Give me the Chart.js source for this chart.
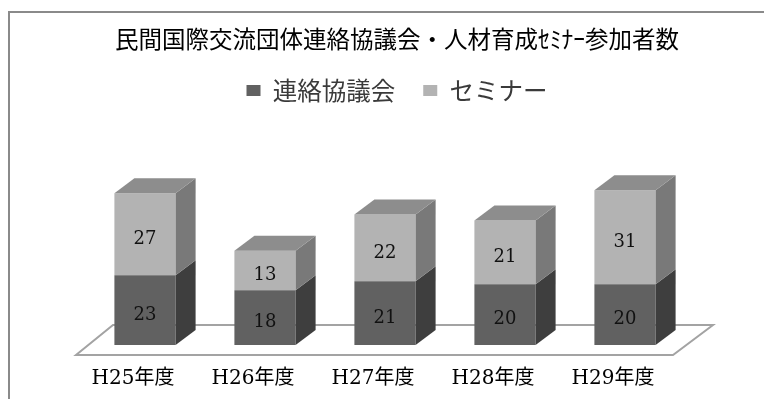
<!DOCTYPE html>
<html lang="ja">
<head>
<meta charset="utf-8">
<title>民間国際交流団体連絡協議会・人材育成ｾﾐﾅｰ参加者数</title>
<script src="https://cdn.jsdelivr.net/npm/chart.js@4.4.1/dist/chart.umd.min.js"></script>
<style>
    html, body { margin: 0; padding: 0; background: #fff; overflow: hidden; }
    #wrap { position: relative; width: 764px; height: 399px; }
    #frame { position: absolute; left: 8px; top: 11px; width: 820px; height: 460px; border: 2px solid #8a8a8a; }
    canvas { position: absolute; left: 0; top: 0; }
</style>
</head>
<body>
<div id="wrap">
    <div id="frame"></div>
    <canvas id="chart" width="764" height="399"></canvas>
</div>
<script>
// Data
const years = ['H25年度', 'H26年度', 'H27年度', 'H28年度', 'H29年度'];
const council = [23, 18, 21, 20, 20];
const seminar = [27, 13, 22, 21, 31];

// depth of the fake 3D boxes
const DX = 20, DY = 15;

const box3d = {
    id: 'box3d',
    beforeDatasetsDraw(chart) {
        // floor outline
        const { ctx, chartArea } = chart;
        const y0 = chart.scales.y.getPixelForValue(0);
        ctx.save();
        ctx.strokeStyle = '#a3a3a3';
        ctx.lineWidth = 2;
        ctx.beginPath();
        ctx.moveTo(chartArea.left - 9, y0 + 10);
        ctx.lineTo(chartArea.right - 12, y0 + 10);
        ctx.lineTo(chartArea.right + 28, y0 - 20);
        ctx.lineTo(chartArea.left + 28, y0 - 20);
        ctx.closePath();
        ctx.stroke();
        ctx.restore();
    },
    afterDatasetsDraw(chart) {
        const ctx = chart.ctx;
        const last = chart.data.datasets.length - 1;
        ctx.save();
        chart.data.datasets.forEach(function (ds, i) {
            chart.getDatasetMeta(i).data.forEach(function (bar, j) {
                const l = bar.x - bar.width / 2, r = bar.x + bar.width / 2;
                const top = Math.min(bar.y, bar.base), bot = Math.max(bar.y, bar.base);

                // side face
                ctx.fillStyle = ds.sideColor;
                ctx.beginPath();
                ctx.moveTo(r, top);
                ctx.lineTo(r + DX, top - DY);
                ctx.lineTo(r + DX, bot - DY);
                ctx.lineTo(r, bot);
                ctx.closePath();
                ctx.fill();

                // top face on the upper segment only
                if (i === last) {
                    ctx.fillStyle = ds.topColor;
                    ctx.beginPath();
                    ctx.moveTo(l, top);
                    ctx.lineTo(l + DX, top - DY);
                    ctx.lineTo(r + DX, top - DY);
                    ctx.lineTo(r, top);
                    ctx.closePath();
                    ctx.fill();
                }

                // value label
                ctx.fillStyle = '#111';
                ctx.font = '18px "DejaVu Serif", serif';
                ctx.textAlign = 'center';
                ctx.textBaseline = 'middle';
                ctx.fillText(String(ds.data[j]), bar.x, (top + bot) / 2 + 5);
            });
        });
        ctx.restore();
    }
};

const chart = new Chart(document.getElementById('chart'), {
    type: 'bar',
    data: {
        labels: years,
        datasets: [{
            label: '連絡協議会',
            data: council,
            backgroundColor: '#616161',
            sideColor: '#3e3e3e',
            topColor: '#4f4f4f',
            borderWidth: 0,
            categoryPercentage: 1,
            barPercentage: 0.51
        }, {
            label: 'セミナー',
            data: seminar,
            backgroundColor: '#b3b3b3',
            sideColor: '#797979',
            topColor: '#8d8d8d',
            borderWidth: 0,
            categoryPercentage: 1,
            barPercentage: 0.51
        }]
    },
    options: {
        responsive: false,
        animation: false,
        layout: {
            padding: { left: 30, right: 0, top: 12, bottom: 8 }
        },
        plugins: {
            title: {
                display: true,
                text: '民間国際交流団体連絡協議会・人材育成ｾﾐﾅｰ参加者数',
                color: '#000',
                font: { family: '"Noto Sans CJK JP"', size: 23.5, weight: 'normal' },
                padding: { top: 13, bottom: -3 }
            },
            legend: {
                position: 'top',
                labels: {
                    boxWidth: 14,
                    boxHeight: 11,
                    padding: 28,
                    color: '#3a3a3a',
                    font: { family: '"Noto Sans CJK JP"', size: 24.5 }
                }
            },
            tooltip: { enabled: false }
        },
        scales: {
            x: {
                stacked: true,
                grid: { display: false, drawTicks: false },
                border: { display: false },
                ticks: {
                    padding: 22,
                    labelOffset: -12,
                    color: '#000',
                    font: { family: '"DejaVu Serif", "Noto Sans CJK JP"', size: 20 }
                },
                afterFit: function (scale) { scale.height = 46; }
            },
            y: {
                stacked: true,
                min: 0,
                max: 76.5,
                grid: { display: false, drawTicks: false },
                border: { display: false },
                ticks: { display: false },
                afterFit: function (scale) { scale.width = 55; }
            },
            y2: {
                position: 'right',
                grid: { display: false, drawTicks: false },
                border: { display: false },
                ticks: { display: false },
                afterFit: function (scale) { scale.width = 79; }
            }
        }
    },
    plugins: [box3d]
});
</script>
</body>
</html>
